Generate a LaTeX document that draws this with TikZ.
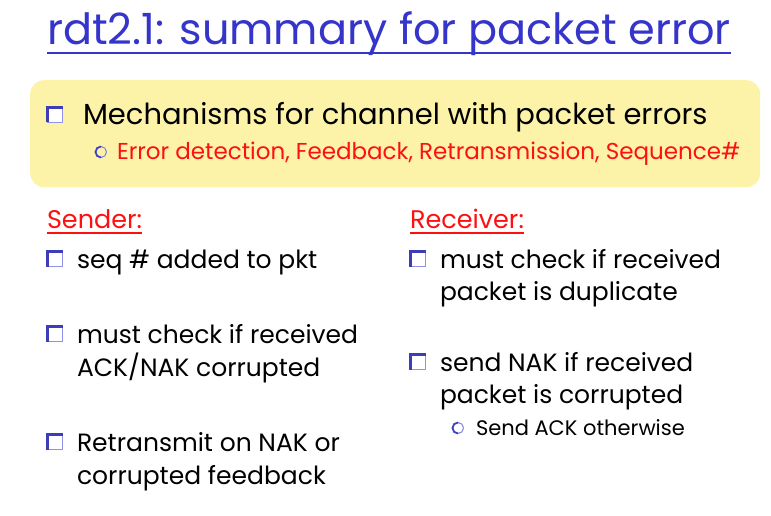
\documentclass[tikz,border=0pt]{standalone}
\usepackage{fontspec}
\setmainfont{Poppins}
\definecolor{ttlblue}{HTML}{3535CC}
\definecolor{bulblue}{HTML}{4848D8}
\definecolor{boxyel}{HTML}{FCF3A8}
\definecolor{txtred}{HTML}{FF1010}
\tikzset{
  txt/.style={anchor=base west, inner sep=0pt, outer sep=0pt},
  body/.style={txt, font=\fontsize{25}{30}\selectfont, text=black},
  sqbullet/.pic={
    \draw[bulblue!60, line width=1pt, fill=white] (-7.5,-7.5) rectangle (7.5,7.5);
    \draw[bulblue!85!black, line width=2.4pt] (-7.5,7.5) -- (-7.5,-7.5) -- (7.5,-7.5);
  },
  cbullet/.pic={
    \draw[bulblue!70, line width=1pt] (0,0) circle (5.5);
    \draw[bulblue!90!black, line width=1.8pt] (0,5.5) arc (90:270:5.5);
  }
}
\begin{document}
\begin{tikzpicture}[x=1pt,y=-1pt]
\useasboundingbox (0,0) rectangle (771,516);
\fill[white] (0,0) rectangle (771,516);
% title
\node[txt, font=\fontsize{43}{50}\selectfont, text=ttlblue] (title) at (47,45) {rdt2.1: summary for packet error};
\draw[ttlblue, line width=2pt] ([yshift=-8pt]title.base west) -- ([yshift=-8pt]title.base east);
% yellow box
\node[fill=boxyel, rounded corners=14pt, minimum width=730pt, minimum height=107pt, anchor=north west, inner sep=0pt] (box) at (30,80) {};
\pic at (55,115) {sqbullet};
\node[txt, font=\fontsize{29}{35}\selectfont] (mech) at (83,125) {Mechanisms for channel with packet errors};
\pic at (101,152) {cbullet};
\node[txt, font=\fontsize{23}{27}\selectfont, text=txtred] (mechsub) at (117,160) {Error detection, Feedback, Retransmission, Sequence\#};
% sender
\node[txt, font=\fontsize{25.5}{30}\selectfont, text=txtred] (sender) at (47,228) {Sender:};
\draw[txtred, line width=1.8pt] ([yshift=-5pt]sender.base west) -- ([yshift=-5pt]sender.base east);
\pic at (55,259) {sqbullet};
\node[body] (s1) at (77,268) {seq \# added to pkt};
\pic at (55,334) {sqbullet};
\node[body] (s2a) at (77,343) {must check if received};
\node[body] (s2b) at (77,376) {ACK/NAK corrupted};
\pic at (55,442) {sqbullet};
\node[body] (s3a) at (77,451) {Retransmit on NAK or};
\node[body] (s3b) at (77,484) {corrupted feedback};
% receiver
\node[txt, font=\fontsize{25.5}{30}\selectfont, text=txtred] (receiver) at (410,228) {Receiver:};
\draw[txtred, line width=1.8pt] ([yshift=-5pt]receiver.base west) -- ([yshift=-5pt]receiver.base east);
\pic at (418,259) {sqbullet};
\node[body] (r1a) at (440,268) {must check if received};
\node[body] (r1b) at (440,300) {packet is duplicate};
\pic at (418,362) {sqbullet};
\node[body] (r2a) at (440,371) {send NAK if received};
\node[body] (r2b) at (440,403) {packet is corrupted};
\pic at (458,428) {cbullet};
\node[txt, font=\fontsize{21}{25}\selectfont] (r3) at (476,435) {Send ACK otherwise};
\end{tikzpicture}
\end{document}
